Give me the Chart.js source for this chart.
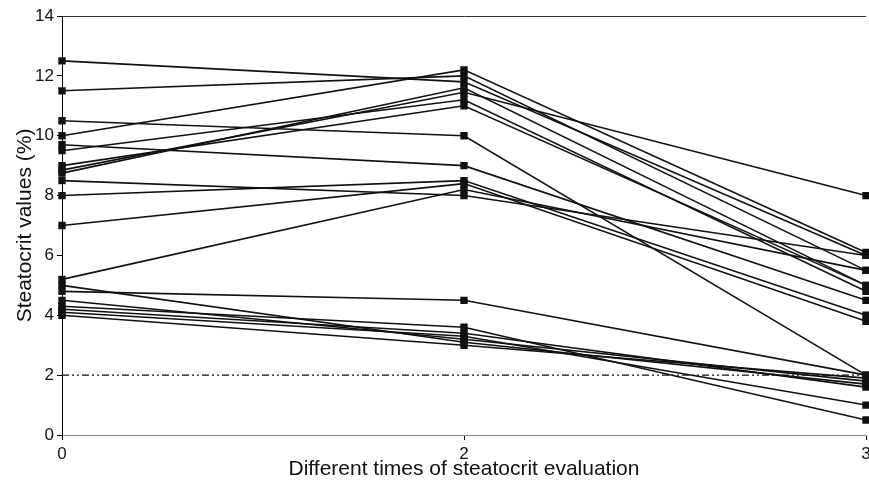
<!DOCTYPE html>
<html>
<head>
<meta charset="utf-8">
<script src="https://cdn.jsdelivr.net/npm/chart.js@4/dist/chart.umd.min.js"></script>
<style>
html,body{margin:0;padding:0;background:#fff;}
canvas{display:block;}
</style>
</head>
<body>
<canvas id="c" width="869" height="483"></canvas>
<script>
const categories = ['0', '2', '3'];
const cutoff = [2, 2, 2];

const s01 = [12.5, 11.8, 6.0];
const s02 = [11.5, 12.0, 5.5];
const s03 = [10.5, 10.0, 2.0];
const s04 = [10.0, 12.2, 6.1];
const s05 = [9.7, 9.0, 4.5];
const s06 = [9.5, 11.2, 4.8];
const s07 = [9.0, 11.0, 5.0];
const s08 = [8.85, 11.45, 8.0];
const s09 = [8.75, 11.6, 5.0];
const s10 = [8.5, 8.0, 6.0];
const s11 = [8.0, 8.5, 4.0];
const s12 = [7.0, 8.4, 3.8];
const s13 = [5.2, 8.2, 5.5];
const s14 = [5.0, 3.1, 1.7];
const s15 = [4.8, 4.5, 2.0];
const s16 = [4.5, 3.2, 1.8];
const s17 = [4.3, 3.6, 0.5];
const s18 = [4.2, 3.4, 1.6];
const s19 = [4.1, 3.3, 1.0];
const s20 = [4.0, 3.0, 1.9];

const series = [s01,s02,s03,s04,s05,s06,s07,s08,s09,s10,s11,s12,s13,s14,s15,s16,s17,s18,s19,s20];

const family = "'Liberation Sans', Arial, Helvetica, sans-serif";
const tickFont = {family, size: 17};
const titleFont = {family, size: 21};

const datasets = series.map(s => ({
  data: s,
  borderColor: '#111',
  borderWidth: 1.6,
  pointStyle: 'rect',
  pointRadius: 5.2,
  pointBackgroundColor: '#111',
  pointBorderColor: '#111',
  pointBorderWidth: 0,
  tension: 0
}));
datasets.push({
  data: cutoff,
  borderColor: '#111',
  borderWidth: 1.1,
  borderDash: [7, 3, 2, 3, 2, 3],
  pointRadius: 0,
  tension: 0
});

new Chart(document.getElementById('c'), {
  type: 'line',
  data: {labels: categories, datasets},
  options: {
    responsive: false,
    animation: false,
    layout: {autoPadding: false, padding: {top: 16, right: 3, left: 0, bottom: 0}},
    plugins: {legend: {display: false}, tooltip: {enabled: false}},
    scales: {
      x: {
        type: 'category',
        offset: false,
        grid: {display: true, drawOnChartArea: false, tickLength: 5, tickColor: '#000'},
        border: {color: '#888', width: 1},
        ticks: {font: tickFont, color: '#111', padding: 4, maxRotation: 0, autoSkip: false},
        title: {display: true, text: 'Different times of steatocrit evaluation', font: titleFont, color: '#111', padding: {top: 0, bottom: 1}},
        afterFit(s) { s.height = 48; s.paddingLeft = 0; s.paddingRight = 0; }
      },
      y: {
        min: 0, max: 14,
        ticks: {stepSize: 2, font: tickFont, color: '#111', padding: 3},
        grid: {
          color: c => (c.tick && c.tick.value === 14) ? '#333' : 'rgba(0,0,0,0)',
          tickColor: '#000', tickLength: 5, lineWidth: 1
        },
        border: {color: '#000', width: 1},
        title: {display: true, text: 'Steatocrit values (%)', font: titleFont, color: '#111', padding: {top: 13, bottom: 0}},
        afterFit(s) { s.width = 62; s.paddingTop = 0; s.paddingBottom = 0; }
      }
    }
  }
});
</script>
</body>
</html>
